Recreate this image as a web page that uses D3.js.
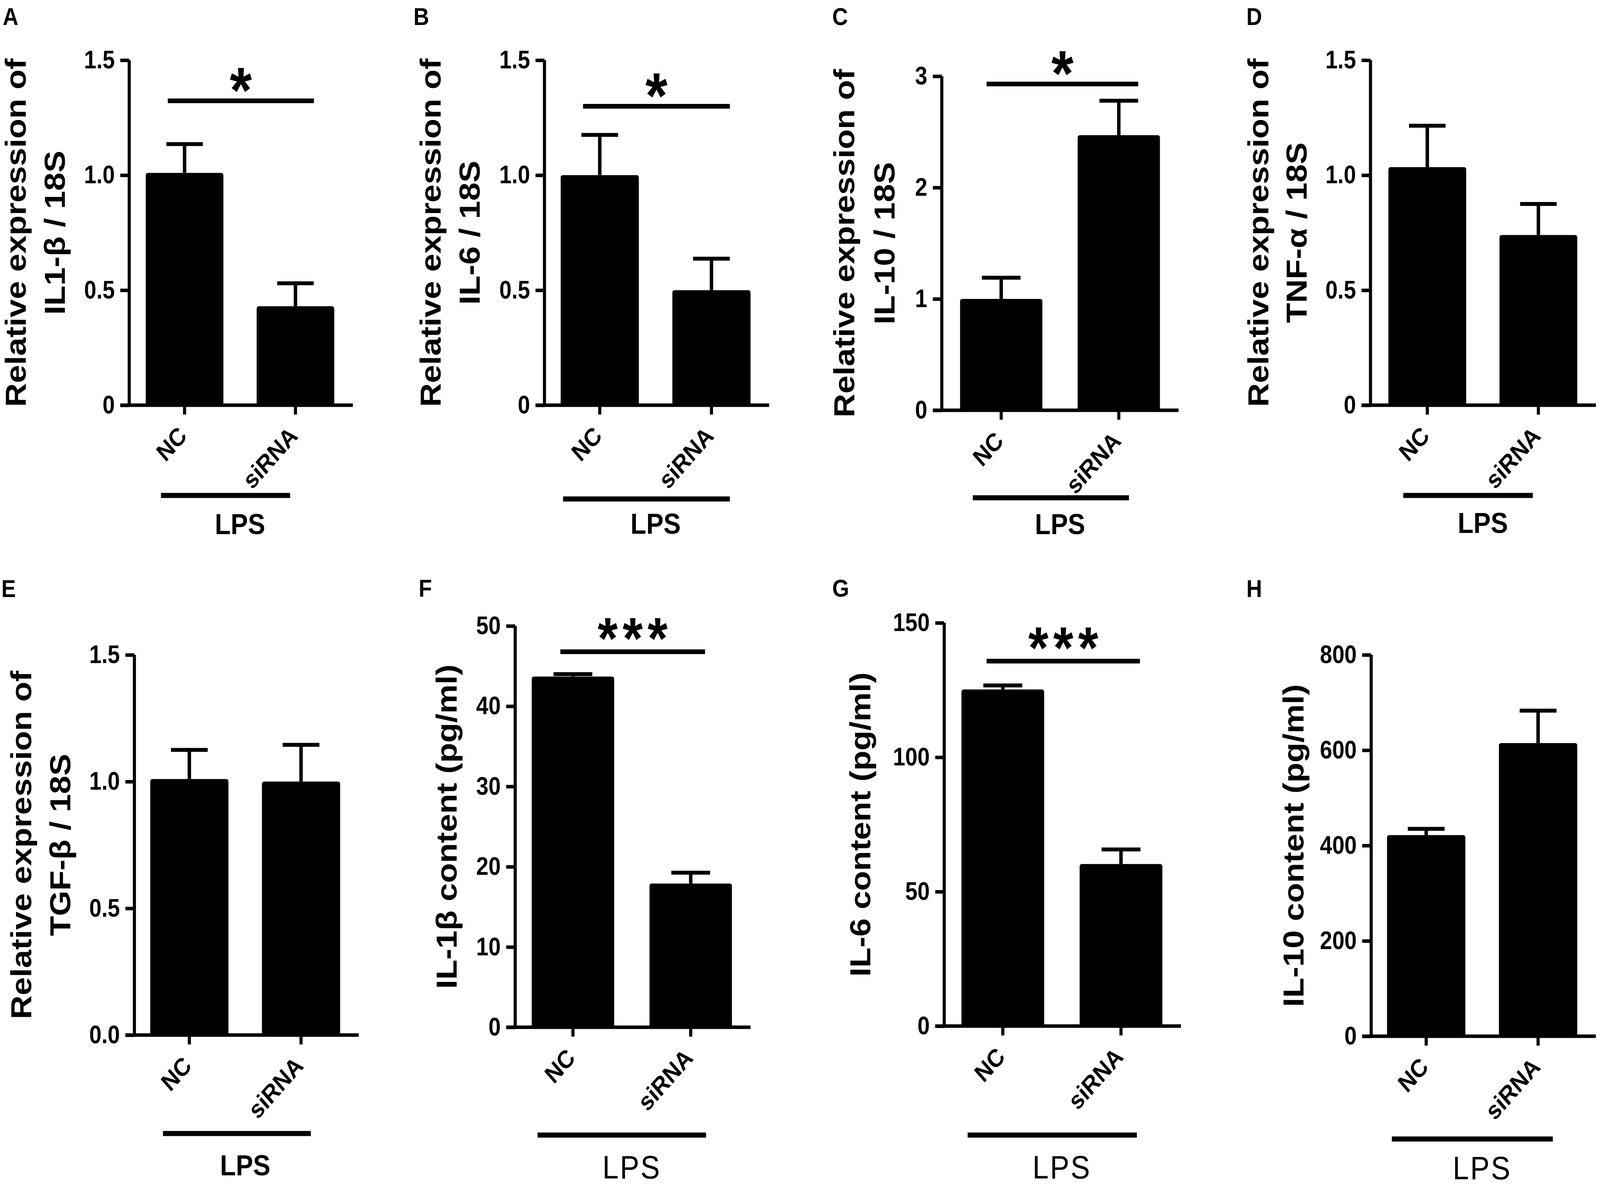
<!DOCTYPE html>
<html>
<head>
<meta charset="utf-8">
<script src="https://cdn.jsdelivr.net/npm/d3@7"></script>
<style>
  html, body { margin: 0; padding: 0; width: 100%; height: 100%; overflow: hidden; background: #fff; }
  svg { display: block; width: 100vw; height: 100vh; }
  text { font-family: "Liberation Sans", Arial, sans-serif; fill: #000; }
</style>
</head>
<body>
<svg id="fig" viewBox="0 0 4643 3043" preserveAspectRatio="none"></svg>
<script>
// groups on the x axis
const categories = ["NC", "siRNA"];
const groupLabel = "LPS";
const panelLetters = ["A", "B", "C", "D", "E", "F", "G", "H"];

// means and upper SEM
const il1bRel = [1.01, 0.43];    const il1bRelErr = [0.125, 0.10];
const il6Rel = [1.00, 0.50];     const il6RelErr = [0.175, 0.137];
const il10Rel = [1.00, 2.47];    const il10RelErr = [0.19, 0.31];
const tnfRel = [1.035, 0.74];    const tnfRelErr = [0.18, 0.135];
const tgfRel = [1.01, 1.00];     const tgfRelErr = [0.115, 0.145];
const il1bPg = [43.7, 17.9];     const il1bPgErr = [0.3, 1.35];
const il6Pg = [125.2, 60.3];     const il6PgErr = [1.5, 5.4];
const il10Pg = [422, 615];       const il10PgErr = [13, 68];

// y ticks
const ticksRel = [0, 0.5, 1, 1.5];
const ticksRelLbl = ["0", "0.5", "1.0", "1.5"];
const ticksRel3 = [0, 1, 2, 3];
const ticksTgfLbl = ["0.0", "0.5", "1.0", "1.5"];
const ticksIl1bPg = [0, 10, 20, 30, 40, 50];
const ticksIl6Pg = [0, 50, 100, 150];
const ticksIl10Pg = [0, 200, 400, 600, 800];

const yTitles = [
  ["Relative expression of", "IL1-β / 18S"],
  ["Relative expression of", "IL-6 / 18S"],
  ["Relative expression of", "IL-10 / 18S"],
  ["Relative expression of", "TNF-α / 18S"],
  ["Relative expression of", "TGF-β / 18S"],
  ["IL-1β content (pg/ml)"],
  ["IL-6 content (pg/ml)"],
  ["IL-10 content (pg/ml)"]
];
const sigMarks = ["*", "*", "*", "", "", "***", "***", ""];

const series = [
  [il1bRel, il1bRelErr, ticksRel, ticksRelLbl],
  [il6Rel, il6RelErr, ticksRel, ticksRelLbl],
  [il10Rel, il10RelErr, ticksRel3, ticksRel3.map(String)],
  [tnfRel, tnfRelErr, ticksRel, ticksRelLbl],
  [tgfRel, tgfRelErr, ticksRel, ticksTgfLbl],
  [il1bPg, il1bPgErr, ticksIl1bPg, ticksIl1bPg.map(String)],
  [il6Pg, il6PgErr, ticksIl6Pg, ticksIl6Pg.map(String)],
  [il10Pg, il10PgErr, ticksIl10Pg, ticksIl10Pg.map(String)]
];

// page layout, in pixels
const layout = [
  {letter: [8, 64],     ax: 375,  yTop: 154,  yBot: 1037, barL: 423,  barR: 970,  title: [75, 188],    sig: [487, 911, 258],    lps: [467, 842, 1268],   lpsY: 1367, bold: true},
  {letter: [1200, 64],  ax: 1580, yTop: 154,  yBot: 1037, barL: 1627, barR: 2178, title: [1279, 1392], sig: [1692, 2118, 272],  lps: [1634, 2118, 1277], lpsY: 1366, bold: true},
  {letter: [2415, 64],  ax: 2733, yTop: 195,  yBot: 1050, barL: 2786, barR: 3366, title: [2479, 2596], sig: [2863, 3303, 215],  lps: [2823, 3276, 1274], lpsY: 1367, bold: true},
  {letter: [3617, 64],  ax: 3977, yTop: 154,  yBot: 1037, barL: 4029, barR: 4577, title: [3681, 3792], sig: null,              lps: [4072, 4448, 1268], lpsY: 1364, bold: true},
  {letter: [4, 1528],   ax: 390,  yTop: 1676, yBot: 2649, barL: 436,  barR: 987,  title: [91, 204],    sig: null,              lps: [473, 902, 2901],   lpsY: 3008, bold: true},
  {letter: [1215, 1527], ax: 1495, yTop: 1602, yBot: 2629, barL: 1543, barR: 2124, title: [1325],      sig: [1626, 2046, 1668], lps: [1560, 2049, 2905], lpsY: 3016, bold: false},
  {letter: [2415, 1527], ax: 2740, yTop: 1594, yBot: 2626, barL: 2790, barR: 3373, title: [2525],      sig: [2863, 3308, 1692], lps: [2808, 3299, 2905], lpsY: 3016, bold: false},
  {letter: [3617, 1528], ax: 3979, yTop: 1676, yBot: 2652, barL: 4025, barR: 4577, title: [3783],      sig: null,              lps: [4039, 4506, 2915], lpsY: 3018, bold: false}
];

const svg = d3.select("#fig");
svg.append("rect").attr("width", 4643).attr("height", 3043).attr("fill", "#fff");

series.forEach(([vals, errs, ticks, tickLbl], i) => {
  const L = layout[i];
  const g = svg.append("g");

  const ymax = ticks[ticks.length - 1];
  const y = d3.scaleLinear().domain([0, ymax]).range([L.yBot, L.yTop]);
  const step = (L.barR - L.barL) / 1.7;
  const x = d3.scaleBand().domain(categories)
    .range([L.barL - 0.15 * step, L.barR + 0.15 * step])
    .paddingInner(0.3).paddingOuter(0.15);
  const bw = x.bandwidth();

  // panel letter
  g.append("text").text(panelLetters[i])
    .attr("x", L.letter[0]).attr("y", L.letter[1])
    .attr("font-size", 63).attr("font-weight", "bold");

  // bars
  g.selectAll(".bar").data(categories).enter().append("rect")
    .attr("x", d => x(d))
    .attr("y", (d, k) => y(vals[k]))
    .attr("width", bw)
    .attr("height", (d, k) => L.yBot - y(vals[k]))
    .attr("rx", 6)
    .attr("fill", "#000");

  // error bars (upper only)
  categories.forEach((c, k) => {
    const cx = x(c) + bw / 2;
    const top = y(vals[k] + errs[k]);
    g.append("line").attr("x1", cx).attr("x2", cx)
      .attr("y1", y(vals[k])).attr("y2", top)
      .attr("stroke", "#000").attr("stroke-width", 10);
    g.append("line").attr("x1", cx - 0.235 * bw).attr("x2", cx + 0.235 * bw)
      .attr("y1", top).attr("y2", top)
      .attr("stroke", "#000").attr("stroke-width", 10);
  });

  // y axis
  const yAxis = d3.axisLeft(y).tickValues(ticks)
    .tickFormat((d, k) => tickLbl[k])
    .tickSize(26).tickSizeOuter(0).tickPadding(16);
  const ya = g.append("g").attr("transform", `translate(${L.ax},0)`).call(yAxis);
  ya.select(".domain").attr("stroke-width", 9).attr("d", `M0,${L.yTop}V${L.yBot}`);
  ya.selectAll(".tick line").attr("stroke-width", 9);
  ya.selectAll(".tick text")
    .attr("font-family", "Liberation Sans, Arial, sans-serif")
    .attr("font-size", 64).attr("font-weight", "bold").attr("fill", "#000");

  // x axis line and ticks
  g.append("line").attr("x1", L.ax - 26).attr("x2", L.barR + 54)
    .attr("y1", L.yBot).attr("y2", L.yBot)
    .attr("stroke", "#000").attr("stroke-width", 9);
  const xAxis = d3.axisBottom(x).tickSize(24).tickSizeOuter(0).tickFormat("");
  const xa = g.append("g").attr("transform", `translate(0,${L.yBot})`).call(xAxis);
  xa.select(".domain").remove();
  xa.selectAll(".tick line").attr("stroke-width", 9);

  // rotated category labels
  g.selectAll(".cat").data(categories).enter().append("text")
    .text(d => d)
    .attr("text-anchor", "end")
    .attr("font-size", 64).attr("font-weight", "bold")
    .attr("transform", d => `translate(${x(d) + bw / 2 + 10},${L.yBot + 82}) rotate(-45)`);

  // y title
  const yMid = (L.yTop + L.yBot) / 2;
  yTitles[i].forEach((t, k) => {
    g.append("text").text(t)
      .attr("text-anchor", "middle")
      .attr("font-size", 84).attr("font-weight", "bold")
      .attr("transform", `translate(${L.title[k]},${yMid}) rotate(-90)`);
  });

  // LPS bracket
  g.append("line").attr("x1", L.lps[0]).attr("x2", L.lps[1])
    .attr("y1", L.lps[2]).attr("y2", L.lps[2])
    .attr("stroke", "#000").attr("stroke-width", 13);
  const mid = (x(categories[0]) + x(categories[1]) + bw) / 2;
  g.append("text").text(groupLabel)
    .attr("x", mid).attr("y", L.lpsY)
    .attr("text-anchor", "middle")
    .attr("font-size", L.bold ? 75 : 84)
    .attr("font-weight", L.bold ? "bold" : "normal")
    .attr("letter-spacing", L.bold ? 0 : 4);

  // significance
  if (L.sig) {
    g.append("line").attr("x1", L.sig[0]).attr("x2", L.sig[1])
      .attr("y1", L.sig[2]).attr("y2", L.sig[2])
      .attr("stroke", "#000").attr("stroke-width", 12);
    const triple = sigMarks[i].length > 1;
    g.append("text").text(sigMarks[i])
      .attr("x", (L.sig[0] + L.sig[1]) / 2 + (triple ? 7 : 0))
      .attr("y", L.sig[2] + (triple ? 18 : 30))
      .attr("text-anchor", "middle")
      .attr("font-family", "DejaVu Sans, sans-serif")
      .attr("font-size", triple ? 150 : 165).attr("font-weight", "bold")
      .attr("letter-spacing", triple ? 14 : 0);
  }
});
</script>
</body>
</html>
